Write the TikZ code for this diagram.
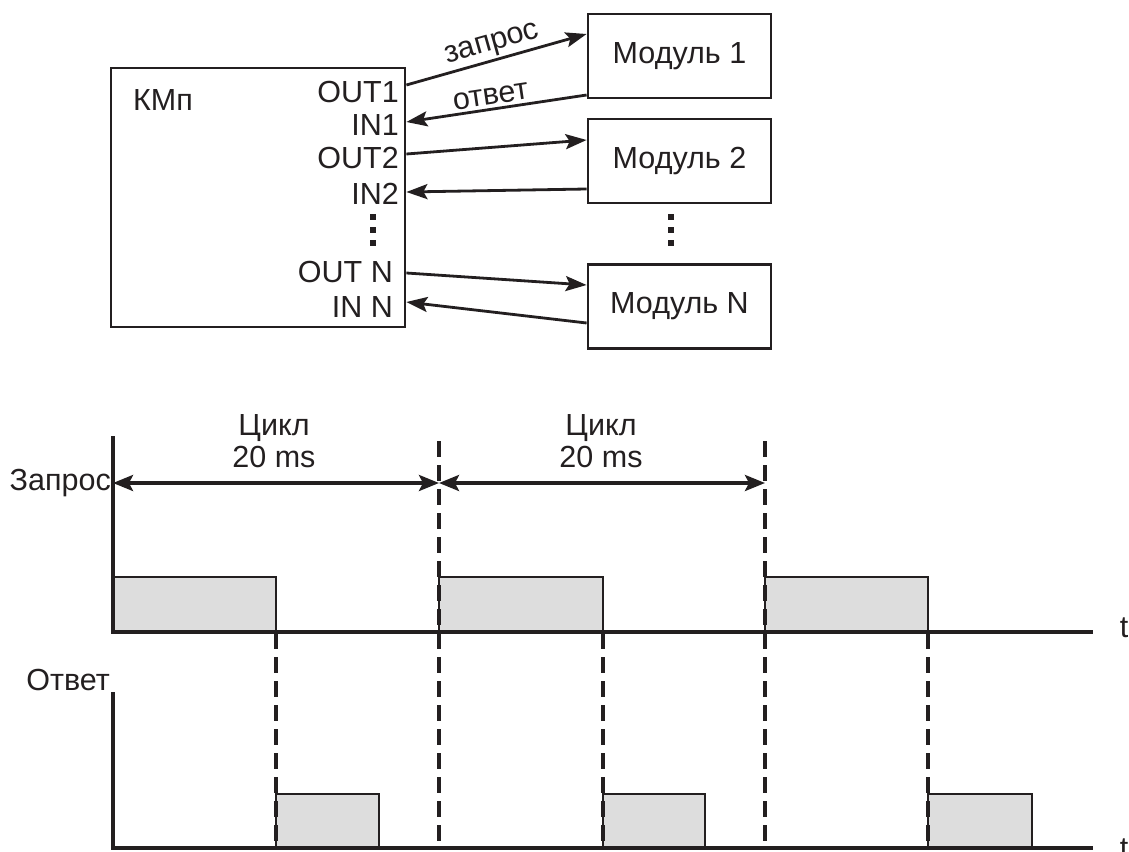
\documentclass[tikz,border=0pt]{standalone}
\usepackage{fontspec}
\setmainfont{Liberation Sans}
\usetikzlibrary{arrows.meta}
\definecolor{ink}{RGB}{35,31,32}
\definecolor{pulse}{RGB}{221,221,221}
\begin{document}
\begin{tikzpicture}[x=1pt,y=-1pt,
  every node/.style={font=\fontsize{30.5}{34}\selectfont, text=ink, inner sep=0pt},
  box/.style={draw=ink, line width=2.8pt, rectangle, inner sep=0pt},
  link/.style={draw=ink, line width=2.8pt, -{Stealth[length=21pt,width=15pt,inset=4pt]}},
  span/.style={draw=ink, line width=3.4pt, {Stealth[length=20pt,width=16pt,inset=4pt]}-{Stealth[length=20pt,width=16pt,inset=4pt]}},
  axis/.style={draw=ink, line width=3.6pt, line join=miter},
  guide/.style={draw=ink, line width=4pt, dash pattern=on 16pt off 8pt},
  pulsebox/.style={draw=ink, line width=1.6pt, fill=pulse},
  dotmark/.style={fill=ink}]
\useasboundingbox (0,0) rectangle (1129,851);

% ---------- controller and modules ----------
\node[box, minimum width=294pt, minimum height=259pt] (kmp) at (258,197.5) {};
\node[anchor=base west] (kmpl) at (133,110) {КМп};
\node[anchor=base east] (pout1) at (399,102) {OUT1};
\node[anchor=base east] (pin1)  at (399,135) {IN1};
\node[anchor=base east] (pout2) at (399,168) {OUT2};
\node[anchor=base east] (pin2)  at (399,204) {IN2};
\node[anchor=base east] (poutn) at (393,282) {OUT N};
\node[anchor=base east] (pinn)  at (393,317) {IN N};

\node[box, minimum width=183pt, minimum height=84pt] (m1) at (679.5,56) {Модуль 1};
\node[box, minimum width=183pt, minimum height=84pt] (m2) at (679.5,161) {Модуль 2};
\node[box, minimum width=183pt, minimum height=84pt] (mn) at (679.5,306.5) {Модуль N};

% ellipsis marks
\foreach \y in {217,230,243} {
  \fill[dotmark] (370,\y-3) rectangle ++(6,6);
  \fill[dotmark] (668,\y-3) rectangle ++(6,6);
}

% ---------- request / answer links ----------
\draw[link] (kmp.east |- 0,85) -- (m1.west |- 0,34)
  node[midway, sloped, above=2pt] {запрос};
\draw[link] (m1.west |- 0,95) -- (kmp.east |- 0,122)
  node[midway, sloped, above=3pt, xshift=-4pt] {ответ};
\draw[link] (kmp.east |- 0,154) -- (m2.west |- 0,140);
\draw[link] (m2.west |- 0,189) -- (kmp.east |- 0,192);
\draw[link] (kmp.east |- 0,273) -- (mn.west |- 0,285);
\draw[link] (mn.west |- 0,323) -- (kmp.east |- 0,302);

% ---------- timing diagram ----------
% request pulses
\foreach \a/\b in {113/276, 439/603, 765/928}
  \draw[pulsebox] (\a,577) rectangle (\b,632);
% answer pulses
\foreach \a/\b in {276/379, 603/705, 928/1032}
  \draw[pulsebox] (\a,794) rectangle (\b,848);

% cycle boundaries and answer instants
\foreach \x in {439,765} \draw[guide] (\x,441) -- (\x,841);
\foreach \x in {276,603,928} \draw[guide] (\x,633) -- (\x,841);

% axes
\draw[axis] (113,436) -- (113,632) -- (1093,632);
\draw[axis] (113,692) -- (113,848) -- (1093,848);

% cycle spans
\draw[span] (113,483) -- (439,483);
\draw[span] (439,483) -- (765,483);
\node[anchor=base] (c1a) at (274,435) {Цикл};
\node[anchor=base] (c1b) at (274,467) {20 ms};
\node[anchor=base] (c2a) at (601,435) {Цикл};
\node[anchor=base] (c2b) at (601,467) {20 ms};

% axis labels
\node[anchor=base east] (lreq) at (111,490) {Запрос};
\node[anchor=base east] (lans) at (110,690) {Ответ};
\node[anchor=base] (t1) at (1124,637) {t};
\node[anchor=base] (t2) at (1124,858) {t};
\end{tikzpicture}
\end{document}
